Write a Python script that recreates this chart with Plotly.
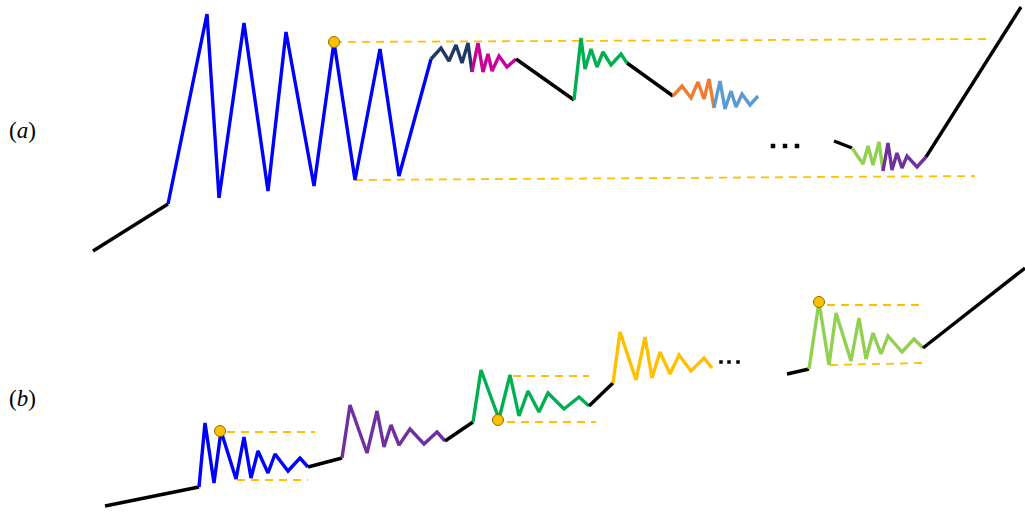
import plotly.graph_objects as go

# ---------------- panel (a) ----------------
a_black1_x = [93, 168]
a_black1_y = [251, 204]
a_blue_x = [168, 207, 219, 244, 268, 286, 314, 334, 355, 380, 399, 431]
a_blue_y = [204, 14, 198, 23, 191, 32, 186, 42, 180, 49, 176, 59]
a_navy_x = [431, 441, 449, 456, 462, 468, 472]
a_navy_y = [59, 48, 61, 45, 63, 43, 72]
a_magenta_x = [472, 478, 483, 488, 492, 499, 507, 516]
a_magenta_y = [72, 43, 72, 54, 71, 56, 67, 59]
a_black2_x = [516, 574]
a_black2_y = [59, 100]
a_green_x = [574, 581, 585, 591, 597, 603, 611, 621, 627]
a_green_y = [100, 38, 69, 49, 67, 52, 65, 54, 63]
a_black3_x = [627, 673]
a_black3_y = [63, 96]
a_orange_x = [673, 682, 691, 698, 704, 709, 714]
a_orange_y = [96, 86, 98, 82, 99, 79, 108]
a_ltblue_x = [714, 720, 725, 731, 736, 742, 750, 758]
a_ltblue_y = [108, 81, 109, 91, 107, 94, 105, 96]
a_black4_x = [834, 852]
a_black4_y = [141, 148]
a_ltgreen_x = [852, 863, 868, 873, 879, 883]
a_ltgreen_y = [148, 164, 146, 165, 142, 171]
a_purple_x = [883, 888, 892, 897, 902, 907, 917, 926]
a_purple_y = [171, 143, 170, 153, 168, 156, 167, 157]
a_black5_x = [926, 1021]
a_black5_y = [157, 7]
a_dash_top_x = [334, 988]
a_dash_top_y = [42, 39]
a_dash_bot_x = [355, 975]
a_dash_bot_y = [180, 176]
a_marker_x = [334]
a_marker_y = [42]
a_dots_x = [773, 785, 797]
a_dots_y = [146, 146, 146]

# ---------------- panel (b) ----------------
b_black1_x = [105, 199]
b_black1_y = [506, 487]
b_blue_x = [199, 205, 214, 221, 236, 244, 251, 258, 268, 275, 288, 300, 308]
b_blue_y = [487, 423, 483, 431, 479, 437, 478, 451, 473, 454, 471, 458, 467]
b_black2_x = [308, 342]
b_black2_y = [467, 458]
b_purple_x = [342, 350, 367, 377, 384, 391, 399, 410, 424, 437, 445]
b_purple_y = [458, 405, 453, 411, 447, 425, 445, 429, 444, 432, 441]
b_black3_x = [445, 473]
b_black3_y = [441, 422]
b_green_x = [473, 481, 499, 510, 519, 528, 539, 548, 564, 579, 589]
b_green_y = [422, 370, 419, 375, 416, 391, 412, 393, 409, 397, 406]
b_black4_x = [589, 613]
b_black4_y = [406, 383]
b_yellow_x = [613, 620, 636, 645, 652, 660, 670, 679, 691, 704, 712]
b_yellow_y = [383, 332, 380, 337, 378, 352, 374, 355, 371, 358, 368]
b_black5_x = [787, 809]
b_black5_y = [374, 369]
b_ltgreen_x = [809, 819, 829, 836, 851, 859, 866, 873, 881, 888, 902, 914, 923]
b_ltgreen_y = [369, 302, 365, 313, 361, 318, 359, 333, 354, 336, 352, 339, 348]
b_black6_x = [923, 1025]
b_black6_y = [348, 268]
b_dash_x = [[227, 315], [237, 308], [513, 589], [507, 596], [827, 919], [830, 922]]
b_dash_y = [[432, 432], [480, 480], [376, 376], [422, 422], [305, 305], [365, 363]]
b_marker_x = [220, 498, 819]
b_marker_y = [431, 420, 302]
b_dots_x = [721, 729, 738]
b_dots_y = [362, 362, 362]

labels_text = ["(<i>a</i>)", "(<i>b</i>)"]
labels_x = [22, 22]
labels_y = [130, 398]

BLACK = "#000000"
DASH = "#FFC000"

segments = [
    (a_black1_x, a_black1_y, BLACK),
    (a_blue_x, a_blue_y, "#0000FF"),
    (a_navy_x, a_navy_y, "#203864"),
    (a_magenta_x, a_magenta_y, "#CC0099"),
    (a_black2_x, a_black2_y, BLACK),
    (a_green_x, a_green_y, "#00B050"),
    (a_black3_x, a_black3_y, BLACK),
    (a_orange_x, a_orange_y, "#ED7D31"),
    (a_ltblue_x, a_ltblue_y, "#5B9BD5"),
    (a_black4_x, a_black4_y, BLACK),
    (a_ltgreen_x, a_ltgreen_y, "#92D050"),
    (a_purple_x, a_purple_y, "#7030A0"),
    (a_black5_x, a_black5_y, BLACK),
    (b_black1_x, b_black1_y, BLACK),
    (b_blue_x, b_blue_y, "#0000FF"),
    (b_black2_x, b_black2_y, BLACK),
    (b_purple_x, b_purple_y, "#7030A0"),
    (b_black3_x, b_black3_y, BLACK),
    (b_green_x, b_green_y, "#00B050"),
    (b_black4_x, b_black4_y, BLACK),
    (b_yellow_x, b_yellow_y, "#FFC000"),
    (b_black5_x, b_black5_y, BLACK),
    (b_ltgreen_x, b_ltgreen_y, "#92D050"),
    (b_black6_x, b_black6_y, BLACK),
]

fig = go.Figure()

dashes = [(a_dash_top_x, a_dash_top_y), (a_dash_bot_x, a_dash_bot_y)] + list(zip(b_dash_x, b_dash_y))
for dx, dy in dashes:
    fig.add_trace(go.Scatter(x=dx, y=dy, mode="lines",
                             line=dict(color=DASH, width=1.8, dash="8px,6px"),
                             hoverinfo="skip"))

for xs, ys, col in segments:
    fig.add_trace(go.Scatter(x=xs, y=ys, mode="lines",
                             line=dict(color=col, width=3.4), hoverinfo="skip"))

fig.add_trace(go.Scatter(x=a_marker_x + b_marker_x, y=a_marker_y + b_marker_y, mode="markers",
                         marker=dict(color="#FFC000", size=11,
                                     line=dict(color="#8C6D00", width=1)),
                         hoverinfo="skip"))

fig.add_trace(go.Scatter(x=a_dots_x, y=a_dots_y, mode="markers",
                         marker=dict(color="black", size=4.5, symbol="square"),
                         hoverinfo="skip"))
fig.add_trace(go.Scatter(x=b_dots_x, y=b_dots_y, mode="markers",
                         marker=dict(color="black", size=3.5, symbol="square"),
                         hoverinfo="skip"))

for t, lx, ly in zip(labels_text, labels_x, labels_y):
    fig.add_annotation(x=lx, y=ly, text=t, showarrow=False,
                       font=dict(family="Liberation Serif, DejaVu Serif, serif", size=23, color="black"),
                       xanchor="center", yanchor="middle")

fig.update_layout(
    width=1025, height=512,
    margin=dict(l=0, r=0, t=0, b=0),
    paper_bgcolor="white", plot_bgcolor="white",
    showlegend=False,
    xaxis=dict(range=[0, 1025], visible=False, fixedrange=True),
    yaxis=dict(range=[512, 0], visible=False, fixedrange=True),
)

fig.write_html("out.html", config={"displayModeBar": False},
               post_script="document.body.style.margin='0';document.body.style.overflow='hidden';")
